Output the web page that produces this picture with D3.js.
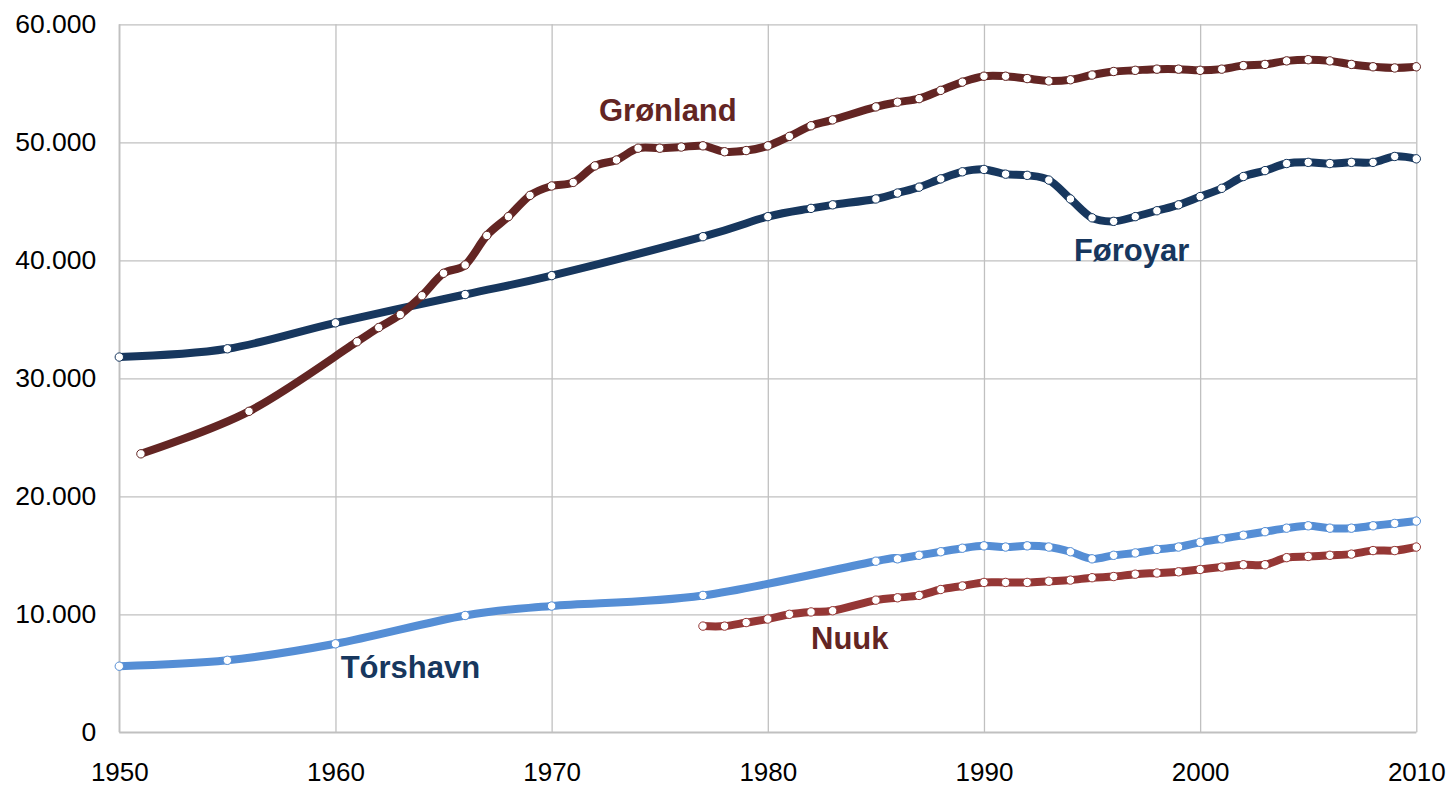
<!DOCTYPE html>
<html>
<head>
<meta charset="utf-8">
<script src="https://cdn.jsdelivr.net/npm/d3@7"></script>
<style>
  html, body { margin: 0; padding: 0; background: #ffffff; }
  svg { display: block; font-family: "Liberation Sans", Arial, sans-serif; }
</style>
</head>
<body>
<svg id="chart" width="1451" height="787"></svg>
<script>
// ---- Data ----
const yTicks = [0, 10000, 20000, 30000, 40000, 50000, 60000];
const xTicks = [1950, 1960, 1970, 1980, 1990, 2000, 2010];

const foroyarYears = [1950,1955,1960,1966,1970,1977,1980,1982,1983,1985,1986,1987,1988,1989,1990,1991,1992,1993,1994,1995,1996,1997,1998,1999,2000,2001,2002,2003,2004,2005,2006,2007,2008,2009,2010];
const foroyarValues = [31800,32500,34700,37100,38700,42000,43700,44400,44700,45200,45700,46200,46900,47500,47700,47300,47200,46800,45200,43600,43300,43700,44200,44700,45400,46100,47100,47600,48200,48300,48200,48300,48300,48800,48600];

const gronlandYears = [1951,1956,1961,1962,1963,1964,1965,1966,1967,1968,1969,1970,1971,1972,1973,1974,1975,1976,1977,1978,1979,1980,1981,1982,1983,1985,1986,1987,1988,1989,1990,1991,1992,1993,1994,1995,1996,1997,1998,1999,2000,2001,2002,2003,2004,2005,2006,2007,2008,2009,2010];
const gronlandValues = [23600,27200,33100,34300,35400,37000,38900,39600,42100,43700,45500,46300,46600,48000,48500,49500,49500,49600,49700,49200,49300,49700,50500,51400,51900,53000,53400,53700,54400,55100,55600,55600,55400,55200,55300,55700,56000,56100,56200,56200,56100,56200,56500,56600,56900,57000,56900,56600,56400,56300,56400];

const torshavnYears = [1950,1955,1960,1966,1970,1977,1985,1986,1987,1988,1989,1990,1991,1992,1993,1994,1995,1996,1997,1998,1999,2000,2001,2002,2003,2004,2005,2006,2007,2008,2009,2010];
const torshavnValues = [5600,6100,7500,9900,10700,11600,14500,14700,15000,15300,15600,15800,15700,15800,15700,15300,14700,15000,15200,15500,15700,16100,16400,16700,17000,17300,17500,17300,17300,17500,17700,17900];

const nuukYears = [1977,1978,1979,1980,1981,1982,1983,1985,1986,1987,1988,1989,1990,1991,1992,1993,1994,1995,1996,1997,1998,1999,2000,2001,2002,2003,2004,2005,2006,2007,2008,2009,2010];
const nuukValues = [9000,9000,9300,9600,10000,10200,10300,11200,11400,11600,12100,12400,12700,12700,12700,12800,12900,13100,13200,13400,13500,13600,13800,14000,14200,14200,14800,14900,15000,15100,15400,15400,15700];

const seriesNames = ["Tórshavn", "Nuuk", "Føroyar", "Grønland"];

// ---- Layout ----
const plotLeft = 119.3, plotRight = 1416.3, plotTop = 24.3, plotBottom = 732.3;
const svg = d3.select("#chart");

const x = d3.scaleLinear().domain([1950, 2010]).range([plotLeft, plotRight]);
const y = d3.scaleLinear().domain([0, 60000]).range([plotBottom, plotTop]);

const locale = d3.formatLocale({decimal: ",", thousands: ".", grouping: [3], currency: ["", ""]});
const fmt = locale.format(",");

const gridColor = "#c0c0c0";

// Horizontal gridlines + y labels
const gy = svg.append("g")
  .attr("transform", `translate(${plotLeft},0)`)
  .call(d3.axisLeft(y).tickValues(yTicks).tickFormat(fmt).tickSize(-(plotRight - plotLeft)).tickPadding(23));
gy.select(".domain").remove();
gy.selectAll(".tick line").attr("stroke", gridColor).attr("stroke-width", 1.3);
gy.selectAll(".tick text").attr("fill", "#000").attr("font-size", "26.5px")
  .attr("font-family", "'Liberation Sans', Arial, sans-serif");

// Vertical gridlines + x labels
const gx = svg.append("g")
  .attr("transform", `translate(0,${plotBottom})`)
  .call(d3.axisBottom(x).tickValues(xTicks).tickFormat(d3.format("d")).tickSize(-(plotBottom - plotTop)).tickPadding(30));
gx.select(".domain").remove();
gx.selectAll(".tick line").attr("stroke", gridColor).attr("stroke-width", 1.3);
gx.selectAll(".tick text").attr("fill", "#000").attr("font-size", "26px")
  .attr("font-family", "'Liberation Sans', Arial, sans-serif");

// Axis lines
svg.append("line").attr("x1", plotLeft).attr("x2", plotLeft).attr("y1", plotTop).attr("y2", plotBottom)
  .attr("stroke", gridColor).attr("stroke-width", 1.5);
svg.append("line").attr("x1", plotLeft).attr("x2", plotRight).attr("y1", plotBottom).attr("y2", plotBottom)
  .attr("stroke", gridColor).attr("stroke-width", 1.5);

// ---- Series ----
const series = [
  {name: "Tórshavn", years: torshavnYears, values: torshavnValues, color: "#558ed5"},
  {name: "Nuuk", years: nuukYears, values: nuukValues, color: "#953735"},
  {name: "Føroyar", years: foroyarYears, values: foroyarValues, color: "#17375e"},
  {name: "Grønland", years: gronlandYears, values: gronlandValues, color: "#632523"}
];

const line = d3.line()
  .x(d => x(d[0]))
  .y(d => y(d[1]))
  .curve(d3.curveCardinal.tension(0));

series.forEach(s => {
  const pts = s.years.map((yr, i) => [yr, s.values[i]]);
  const g = svg.append("g").attr("class", "series");
  g.append("path").datum(pts)
    .attr("d", line)
    .attr("fill", "none")
    .attr("stroke", s.color)
    .attr("stroke-width", 8)
    .attr("stroke-linejoin", "round")
    .attr("stroke-linecap", "butt");
  g.selectAll("circle").data(pts).join("circle")
    .attr("cx", d => x(d[0]))
    .attr("cy", d => y(d[1]))
    .attr("r", 4.2)
    .attr("fill", "#ffffff")
    .attr("stroke", s.color)
    .attr("stroke-width", 1);
});

// ---- Labels ----
const labels = [
  {text: "Grønland", year: 1972.19, value: 51800, color: "#632523"},
  {text: "Føroyar", year: 1994.16, value: 39970, color: "#17375e"},
  {text: "Tórshavn", year: 1960.24, value: 4630, color: "#17375e"},
  {text: "Nuuk", year: 1982.0, value: 7060, color: "#632523"}
];
svg.append("g").selectAll("text").data(labels).join("text")
  .attr("x", d => x(d.year))
  .attr("y", d => y(d.value))
  .attr("fill", d => d.color)
  .attr("font-size", "31px")
  .attr("font-weight", "bold")
  .attr("font-family", "'Liberation Sans', Arial, sans-serif")
  .text(d => d.text);
</script>
</body>
</html>
